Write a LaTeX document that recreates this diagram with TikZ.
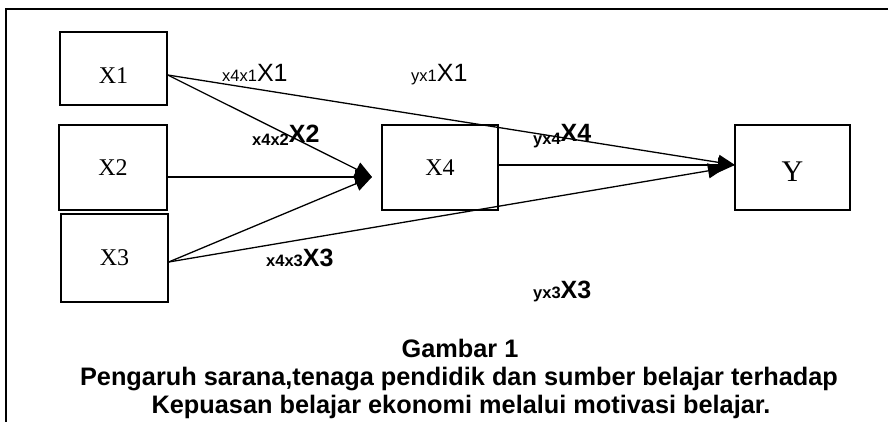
\documentclass[tikz,border=0pt]{standalone}
\usepackage{fontspec}
\setmainfont{Liberation Serif}
\newfontfamily\arialf{Liberation Sans}
\usetikzlibrary{arrows.meta}
\begin{document}
\begin{tikzpicture}[x=1pt,y=-1pt,
  box/.style={draw, line width=1.4pt, inner sep=0pt, text depth=0pt,
    font=\fontsize{24}{24}\selectfont},
  arr/.style={line width=1.3pt, -{Triangle[length=17pt,width=15pt]}},
  lab/.style={anchor=base west, inner sep=0pt, font=\arialf},
  blab/.style={anchor=base west, inner sep=0pt, font=\arialf\bfseries},
  captxt/.style={anchor=base, inner sep=0pt, font=\arialf\bfseries\fontsize{25.3}{25.3}\selectfont}
]
\useasboundingbox (0,0) rectangle (888,422);
% frame
\draw[line width=1.5pt] (6,422) -- (6,9) -- (888,9);
% boxes
\node[box, minimum width=107pt, minimum height=73pt, text height=30pt] (X1) at (113.5,68.5) {X1};
\node[box, minimum width=108pt, minimum height=85pt] (X2) at (113,167.5) {X2};
\node[box, minimum width=107pt, minimum height=88pt] (X3) at (114.5,258) {X3};
\node[box, minimum width=116pt, minimum height=85pt] (X4) at (440,167.5) {X4};
\node[box, minimum width=115pt, minimum height=85pt, text height=28pt,
  font=\fontsize{30}{30}\selectfont] (Y) at (792.5,167.5) {Y};
% arrow tips
\coordinate (t4) at (372,177);
\coordinate (ty) at (735,165);
\coordinate (ty3) at (725,168);
% connectors
\draw[arr] ([yshift=-6.5pt]X1.east) -- (t4);
\draw[arr] ([yshift=-9.5pt]X2.east) -- (t4);
\draw[arr] ([yshift=-4pt]X3.east) -- (t4);
\draw[arr] ([yshift=-6.5pt]X1.east) -- (ty);
\draw[arr] ([yshift=2.5pt]X4.east) -- (ty);
\draw[arr] ([yshift=-4pt]X3.east) -- (ty3);
% labels
\node[lab] (l1) at (222,82) {{\fontsize{16.5}{16.5}\selectfont x4x1}{\fontsize{25}{25}\selectfont X1}};
\node[lab] (l2) at (411,82) {{\fontsize{16.5}{16.5}\selectfont yx1}{\fontsize{25}{25}\selectfont X1}};
\node[blab] (l3) at (252,143) {\raisebox{-2pt}{\fontsize{16.5}{16.5}\selectfont x4x2}{\fontsize{25}{25}\selectfont X2}};
\node[blab] (l4) at (533,142) {\raisebox{-3pt}{\fontsize{16.5}{16.5}\selectfont yx4}{\fontsize{25}{25}\selectfont X4}};
\node[blab] (l5) at (266,266) {{\fontsize{16.5}{16.5}\selectfont x4x3}{\fontsize{25}{25}\selectfont X3}};
\node[blab] (l6) at (533,298) {{\fontsize{16.5}{16.5}\selectfont yx3}{\fontsize{25}{25}\selectfont X3}};
% caption
\node[captxt] (c1) at (460,357) {Gambar 1};
\node[captxt] (c2) at (459,385) {Pengaruh sarana,tenaga pendidik dan sumber belajar terhadap};
\node[captxt] (c3) at (461,413) {Kepuasan belajar ekonomi melalui motivasi belajar.};
\end{tikzpicture}
\end{document}
